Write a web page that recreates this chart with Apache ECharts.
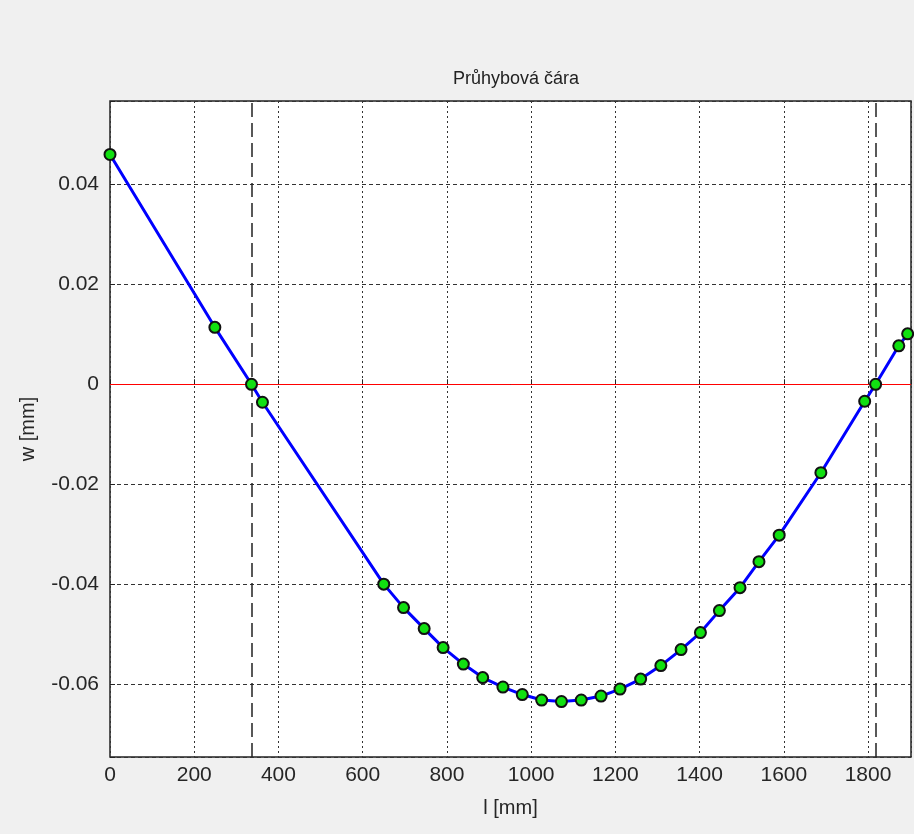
<!DOCTYPE html>
<html>
<head>
<meta charset="utf-8">
<script src="https://cdn.jsdelivr.net/npm/echarts@6/dist/echarts.min.js"></script>
<style>
  html, body { margin: 0; padding: 0; background: #f0f0f0; }
  #chart { width: 914px; height: 834px; }
</style>
</head>
<body>
<div id="chart"></div>
<script>
// Deflection line of the shaft: position l [mm] and deflection w [mm]
const positions = [0, 249, 336, 362, 650, 697, 746, 791, 839, 885, 933, 979, 1025, 1072,
  1119, 1166, 1211, 1260, 1308, 1356, 1402, 1447, 1496, 1541, 1589, 1688, 1792, 1818, 1873, 1894];
const deflections = [0.0460, 0.0114, 0.0000, -0.0036, -0.0400, -0.0447, -0.0489, -0.0527,
  -0.0560, -0.0587, -0.0606, -0.0621, -0.0632, -0.0635, -0.0632, -0.0624, -0.0610, -0.0590,
  -0.0563, -0.0531, -0.0497, -0.0453, -0.0407, -0.0355, -0.0302, -0.0177, -0.0034, 0.0000,
  0.0077, 0.0101];
// Support (bearing) positions, drawn as long-dashed verticals
const supports = [336, 1818];
// Axis ranges and tick steps
const xRange = [0, 1902];
const yRange = [-0.0746, 0.0567];
const xStep = 200;
const yStep = 0.02;

const font = '"Liberation Sans", Arial, sans-serif';
const chart = echarts.init(document.getElementById('chart'));

const points = positions.map((x, i) => [x, deflections[i]]);

function onStep(v, step) {
  const k = v / step;
  return Math.abs(k - Math.round(k)) < 1e-6;
}

chart.setOption({
  backgroundColor: '#f0f0f0',
  animation: false,
  title: {
    text: 'Průhybová čára',
    left: 511,
    textAlign: 'center',
    top: 65,
    textStyle: { fontFamily: font, fontSize: 18, fontWeight: 'normal', color: '#222' }
  },
  grid: {
    left: 110, right: 2, top: 101, bottom: 77,
    show: true, backgroundColor: '#ffffff', borderColor: '#222', borderWidth: 1.5
  },
  xAxis: {
    type: 'value',
    min: xRange[0], max: xRange[1], interval: xStep,
    name: 'l [mm]', nameLocation: 'middle', nameGap: 41,
    nameTextStyle: { fontFamily: font, fontSize: 20, color: '#262626' },
    axisLine: { show: false },
    axisTick: { show: true, inside: true, length: 5, lineStyle: { color: '#222' } },
    axisLabel: {
      margin: 8, fontFamily: font, fontSize: 21, color: '#262626',
      formatter: v => onStep(v, xStep) ? String(Math.round(v)) : ''
    },
    splitLine: { show: true, lineStyle: { color: '#333', width: 1, type: [2, 3] } }
  },
  yAxis: {
    type: 'value',
    min: yRange[0], max: yRange[1], splitNumber: 6,
    name: 'w [mm]', nameLocation: 'middle', nameGap: 72, nameRotate: 90,
    nameTextStyle: { fontFamily: font, fontSize: 20, color: '#262626' },
    axisLine: { show: false },
    axisTick: { show: true, inside: true, length: 5, lineStyle: { color: '#222' } },
    axisLabel: {
      margin: 11, fontFamily: font, fontSize: 21, color: '#262626',
      formatter: v => onStep(v, yStep) ? String(+v.toFixed(2)) : ''
    },
    splitLine: { show: true, lineStyle: { color: '#333', width: 1, type: [4, 3] } }
  },
  series: [
    {
      type: 'line',
      data: points,
      z: 5,
      lineStyle: { color: '#0000ff', width: 3 },
      symbol: 'circle',
      symbolSize: 11,
      itemStyle: { color: '#11e011', borderColor: '#111', borderWidth: 2 },
      markLine: {
        silent: true,
        symbol: 'none',
        label: { show: false },
        data: [
          { yAxis: 0, lineStyle: { color: '#ff0000', width: 1, type: 'solid' } },
          ...supports.map(s => ({
            xAxis: s, lineStyle: { color: '#222', width: 1.5, type: [14, 6] }
          }))
        ]
      }
    }
  ]
});
</script>
</body>
</html>
